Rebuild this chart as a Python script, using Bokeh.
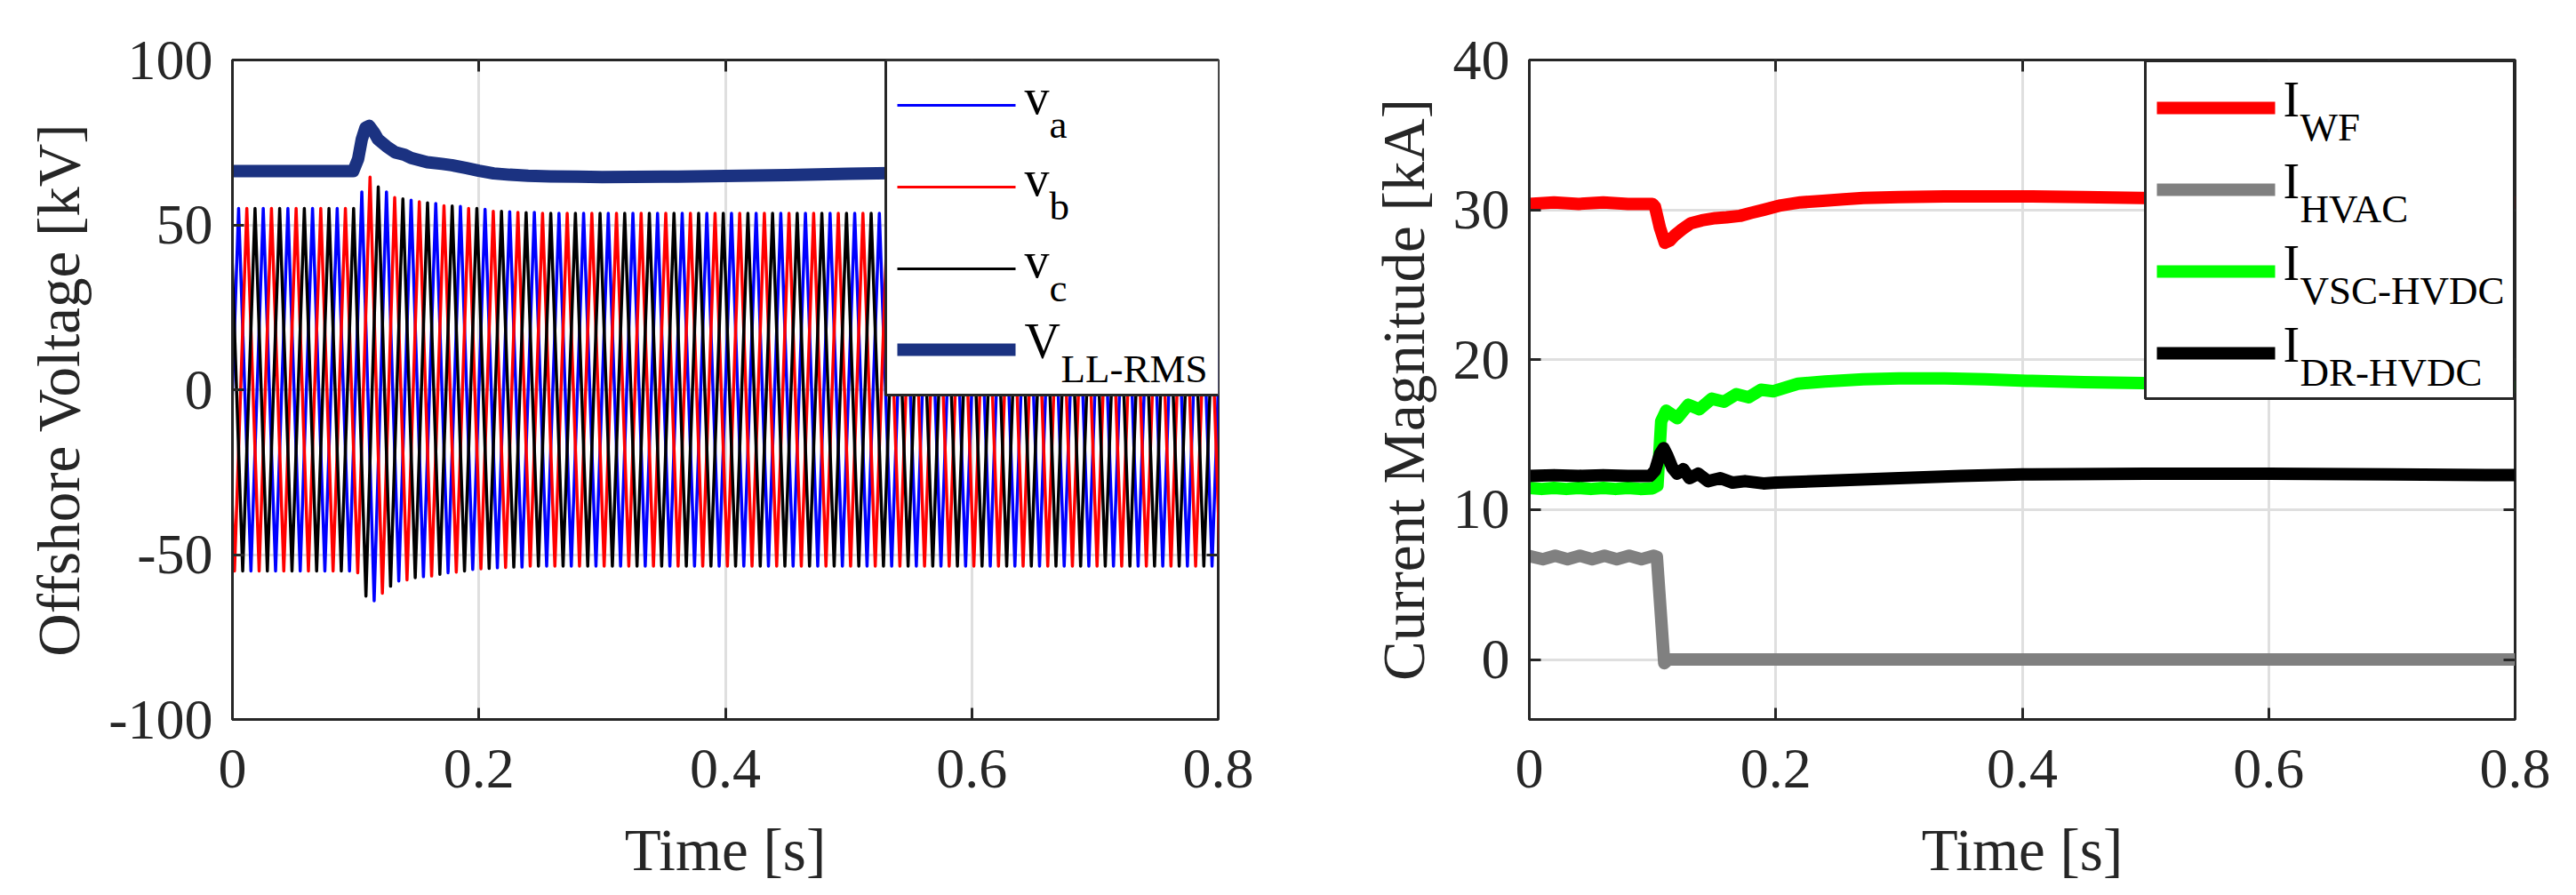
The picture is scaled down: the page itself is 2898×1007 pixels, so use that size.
import numpy as np
from bokeh.plotting import figure
from bokeh.layouts import row
from bokeh.models import (Range1d, FixedTicker, LinearAxis, BoxAnnotation, Label)
from bokeh.embed import file_html
from bokeh.resources import INLINE

# ---------------- data ----------------
# Left panel: phase voltages, given as successive peak / trough values (kV)
# one extremum every half cycle (50 Hz -> every 10 ms)
va_ext = [-55, 55] * 5 + [-55, 60, -64, 60, -58, 57.5, -56.7, 56.5, -55.5, 55.6,
                          -54.5, 54.7, -54, 54, -53.8, 53.8] + [-53.5, 53.5] * 28
vb_ext = [55, -55] * 5 + [55, -55.5, 64.5, -61.7, 58.3, -57.7, 57, -56.5, 55.8,
                          -55.3, 55, -54.3, 54.1, -53.9, 53.8] + [-53.5, 53.5] * 28 + [-53.5]
vc_ext = [55, -55] * 5 + [55, -62.6, 61.5, -59.6, 57.9, -57, 56.7, -56, 55.7,
                          -55, 55, -54.2, 54.1, -53.8, 53.7] + [-53.5, 53.5] * 28 + [-53.5]
# first extremum time of each phase (s) and half-cycle spacing
va_t0, vb_t0, vc_t0 = -0.005, -0.008333, -0.001667
half_cycle = 0.01

t_rms = [0, 0.098, 0.102, 0.105, 0.108, 0.111, 0.115, 0.118, 0.125, 0.132,
         0.14, 0.145, 0.158, 0.17, 0.178, 0.19, 0.2, 0.212, 0.225, 0.24,
         0.258, 0.28, 0.3, 0.35, 0.4, 0.45, 0.5, 0.55, 0.6, 0.7, 0.8]
v_rms = [66.3, 66.3, 70, 76, 79.5, 80, 78, 76, 73.8, 72,
         71.2, 70.3, 69, 68.5, 68.1, 67.2, 66.4, 65.6, 65.2, 64.9,
         64.7, 64.6, 64.5, 64.6, 64.8, 65.1, 65.5, 65.8, 66, 66.2, 66.3]

# Right panel: current magnitudes (kA)
t_wf = [0, 0.02, 0.04, 0.06, 0.08, 0.1, 0.102, 0.106, 0.11, 0.114,
        0.118, 0.124, 0.131, 0.14, 0.151, 0.16, 0.171, 0.18, 0.19, 0.204,
        0.22, 0.238, 0.255, 0.271, 0.3, 0.337, 0.37, 0.404, 0.45, 0.497,
        0.55, 0.6, 0.7, 0.8]
i_wf = [30.4, 30.5, 30.4, 30.5, 30.4, 30.4, 30.2, 28.8, 27.8, 27.95,
        28.3, 28.7, 29.1, 29.3, 29.45, 29.5, 29.6, 29.8, 30.0, 30.3,
        30.5, 30.6, 30.7, 30.8, 30.85, 30.9, 30.9, 30.9, 30.85, 30.8,
        30.75, 30.7, 30.6, 30.5]

t_hv = [0, 0.011, 0.021, 0.031, 0.041, 0.051, 0.061, 0.071, 0.081, 0.091,
        0.101, 0.1035, 0.1095, 0.113, 0.8]
i_hv = [6.9, 6.69, 6.93, 6.69, 6.93, 6.69, 6.93, 6.69, 6.93, 6.69,
        6.93, 6.85, -0.25, 0, 0]

t_vsc = [0, 0.01, 0.02, 0.03, 0.04, 0.05, 0.06, 0.07, 0.08, 0.09, 0.1,
         0.104, 0.107, 0.111, 0.12, 0.129, 0.138, 0.148, 0.158, 0.168,
         0.178, 0.188, 0.198, 0.218, 0.24, 0.271, 0.3, 0.337, 0.37, 0.404,
         0.45, 0.497, 0.55, 0.6, 0.7, 0.8]
i_vsc = [11.45, 11.38, 11.45, 11.38, 11.45, 11.38, 11.45, 11.38, 11.45, 11.38, 11.42,
         11.6, 15.9, 16.6, 16.1, 17.0, 16.7, 17.4, 17.2, 17.7,
         17.5, 18.0, 17.9, 18.4, 18.55, 18.7, 18.75, 18.75, 18.7, 18.6,
         18.5, 18.45, 18.35, 18.3, 18.25, 18.2]

t_dr = [0, 0.02, 0.04, 0.06, 0.08, 0.098, 0.102, 0.106, 0.109, 0.112,
        0.116, 0.12, 0.125, 0.13, 0.137, 0.145, 0.155, 0.165, 0.175, 0.19,
        0.2, 0.25, 0.3, 0.35, 0.4, 0.5, 0.6, 0.7, 0.8]
i_dr = [12.25, 12.3, 12.25, 12.3, 12.25, 12.25, 12.6, 13.7, 14.1, 13.6,
        12.8, 12.4, 12.7, 12.1, 12.4, 11.9, 12.1, 11.8, 11.9, 11.75,
        11.8, 11.95, 12.1, 12.25, 12.35, 12.4, 12.4, 12.35, 12.3]

x_ticks = [0, 0.2, 0.4, 0.6, 0.8]
x_tick_labels = ["0", "0.2", "0.4", "0.6", "0.8"]
yl_ticks = [-100, -50, 0, 50, 100]
yl_tick_labels = ["-100", "-50", "0", "50", "100"]
yr_ticks = [0, 10, 20, 30, 40]
yr_tick_labels = ["0", "10", "20", "30", "40"]

left_names = ["v", "v", "v", "V"]
left_subs = ["a", "b", "c", "LL-RMS"]
right_names = ["I", "I", "I", "I"]
right_subs = ["WF", "HVAC", "VSC-HVDC", "DR-HVDC"]

# ---------------- style ----------------
FONT = "Liberation Serif"
AX = "#262626"
GRID = "#DFDFDF"
TICK_FS = "64px"
LAB_FS = "67px"
FW, FH = 1109, 742
COL_A, COL_B, COL_C, COL_RMS = "#0000FF", "#FF0000", "#000000", "#1B3281"
COL_WF, COL_HV, COL_VSC, COL_DR = "#FF0000", "#808080", "#00FF00", "#000000"
THICK = 14


def make_fig(yr, ylabel, border_left, border_right, yticks, ylabels):
    p = figure(frame_width=FW, frame_height=FH, x_range=Range1d(0, 0.8),
               y_range=Range1d(*yr), output_backend="svg", toolbar_location=None,
               min_border_left=border_left, min_border_right=border_right,
               min_border_top=67, min_border_bottom=170)
    p.background_fill_color = "white"
    p.border_fill_color = "white"
    p.outline_line_color = AX
    p.outline_line_width = 3
    xa = p.below[0]
    ya = p.left[0]
    for ax, ticks, labels in ((xa, x_ticks, x_tick_labels), (ya, yticks, ylabels)):
        ax.ticker = FixedTicker(ticks=ticks)
        ax.major_label_overrides = {t: s for t, s in zip(ticks, labels)}
        ax.major_label_text_font = FONT
        ax.major_label_text_font_size = TICK_FS
        ax.major_label_text_color = AX
        ax.axis_label_text_font = FONT
        ax.axis_label_text_font_size = LAB_FS
        ax.axis_label_text_font_style = "normal"
        ax.axis_label_text_color = AX
        ax.axis_line_color = AX
        ax.axis_line_width = 3
        ax.major_tick_in = 13
        ax.major_tick_out = 0
        ax.major_tick_line_width = 3
        ax.major_tick_line_color = AX
        ax.minor_tick_line_color = None
    xa.axis_label = "Time [s]"
    ya.axis_label = ylabel
    xa.major_label_standoff = 34
    xa.axis_label_standoff = 30
    ya.major_label_standoff = 22
    ya.axis_label_standoff = 16
    for loc, ticks in (("above", x_ticks), ("right", yticks)):
        a = LinearAxis(ticker=FixedTicker(ticks=ticks), major_label_text_color=None,
                       major_label_text_font_size="10px", axis_label=None,
                       major_label_standoff=0, axis_line_color=None, major_tick_in=13,
                       major_tick_out=0, major_tick_line_width=3, major_tick_line_color=AX,
                       minor_tick_line_color=None)
        p.add_layout(a, loc)
    p.xgrid.ticker = FixedTicker(ticks=x_ticks)
    p.ygrid.ticker = FixedTicker(ticks=yticks)
    p.grid.grid_line_color = GRID
    p.grid.grid_line_width = 3
    return p


def ext_times(t0, n):
    return [t0 + half_cycle * i for i in range(n)]


# ---------------- left panel ----------------
p1 = make_fig((-100, 100), "Offshore Voltage [kV]", 261, 80, yl_ticks, yl_tick_labels)
p1.line(ext_times(va_t0, len(va_ext)), va_ext, line_color=COL_A, line_width=3.5, line_join="round")
p1.line(ext_times(vb_t0, len(vb_ext)), vb_ext, line_color=COL_B, line_width=3.5, line_join="round")
p1.line(ext_times(vc_t0, len(vc_ext)), vc_ext, line_color=COL_C, line_width=3.5, line_join="round")
p1.line(t_rms, v_rms, line_color=COL_RMS, line_width=THICK, line_join="round")

# ---------------- right panel ----------------
p2 = make_fig((-4, 40), "Current Magnitude [kA]", 270, 45, yr_ticks, yr_tick_labels)
p2.line(t_wf, i_wf, line_color=COL_WF, line_width=THICK, line_join="round")
p2.line(t_hv, i_hv, line_color=COL_HV, line_width=THICK, line_join="round")
p2.line(t_vsc, i_vsc, line_color=COL_VSC, line_width=THICK, line_join="round")
p2.line(t_dr, i_dr, line_color=COL_DR, line_width=THICK, line_join="round")


# ---------------- legends (drawn manually to allow subscripts) ----------------
def add_legend(p, yr, box, rows, samp_x, widths, colors, names, subs, name_x, sub_x):
    y0, y1 = yr

    def dx(px):
        return 0.8 * px / FW

    def dy(py):
        return y1 - (y1 - y0) * py / FH

    p.add_layout(BoxAnnotation(left=dx(box[0]), right=dx(box[2]), top=dy(box[1]), bottom=dy(box[3]),
                               fill_color="white", fill_alpha=1.0, line_color=AX, line_width=3,
                               line_alpha=1.0, editable=False))
    for k, cy in enumerate(rows):
        w = widths[k]
        p.add_layout(BoxAnnotation(left=dx(samp_x[0]), right=dx(samp_x[1]),
                                   top=dy(cy - w / 2), bottom=dy(cy + w / 2),
                                   fill_color=colors[k], fill_alpha=1.0, line_color=None))
        # main symbol: baseline 9 px below the row centre (text placed by its middle)
        p.add_layout(Label(x=dx(name_x), y=dy(cy + 9 - 19), text=names[k], text_font=FONT,
                           text_font_size="56px", text_color="black", text_baseline="middle",
                           text_align="left"))
        # subscript: baseline 36 px below the row centre
        p.add_layout(Label(x=dx(sub_x[k]), y=dy(cy + 36 - 15), text=subs[k], text_font=FONT,
                           text_font_size="45px", text_color="black", text_baseline="middle",
                           text_align="left"))


# positions in pixels relative to the top-left of each frame
add_legend(p1, (-100, 100), (735, 0, 1110, 377), [51, 143, 235, 326], (748, 881),
           [3, 3, 3, 14], [COL_A, COL_B, COL_C, COL_RMS], left_names, left_subs,
           891, [919, 919, 919, 932])
add_legend(p2, (-4, 40), (693, 1, 1108, 381), [54, 146, 238, 330], (706, 839),
           [14, 14, 14, 14], [COL_WF, COL_HV, COL_VSC, COL_DR], right_names, right_subs,
           848, [867, 867, 867, 867])

layout = row(p1, p2)
open("out.html", "w").write(file_html(layout, INLINE))
